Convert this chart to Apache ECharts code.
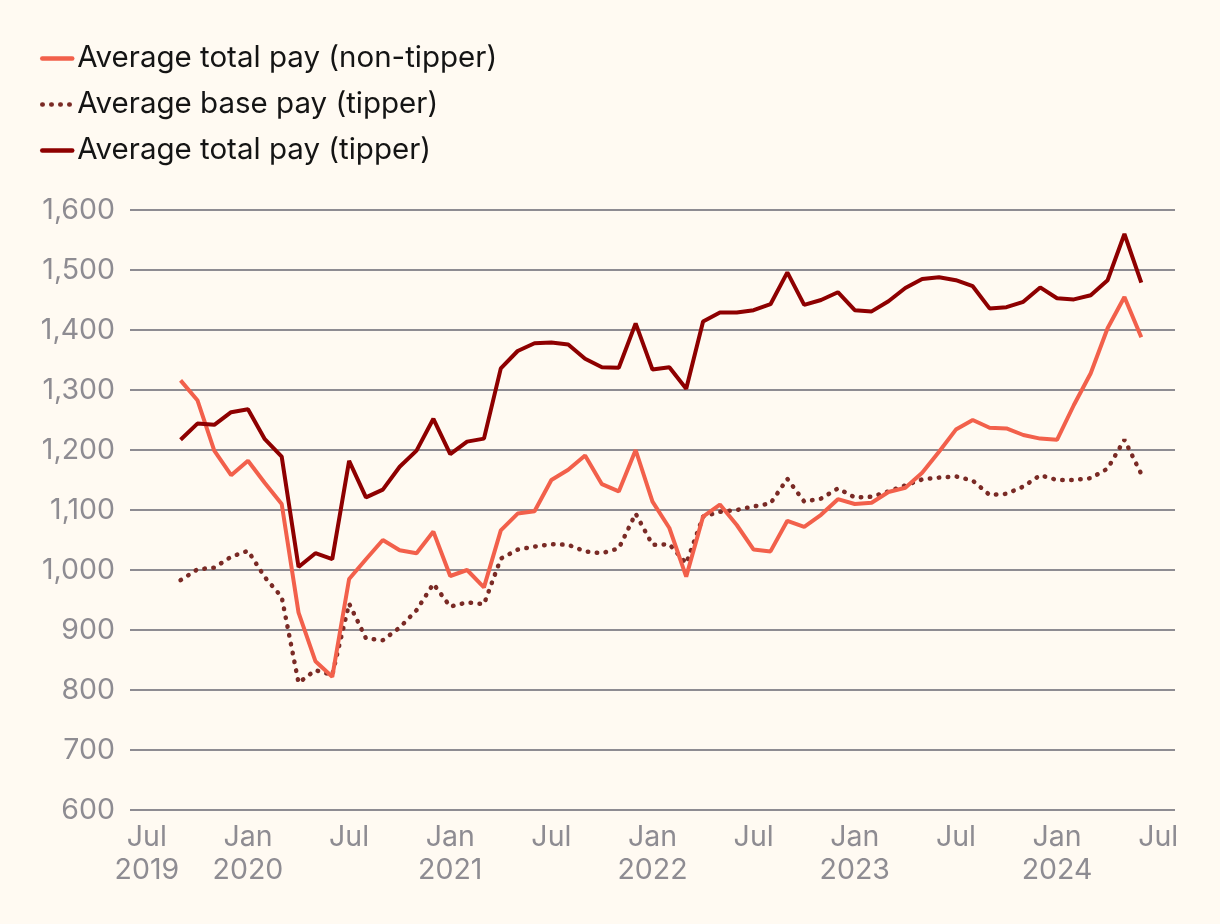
<!DOCTYPE html>
<html>
<head>
<meta charset="utf-8">
<script src="https://cdn.jsdelivr.net/npm/echarts@6/dist/echarts.min.js"></script>
<style>
  html, body { margin: 0; padding: 0; background: #FFFAF2; }
  #chart { width: 1220px; height: 924px; }
</style>
</head>
<body>
<div id="chart"></div>
<script>
// Axis categories (monthly), Jun 2019 – Aug 2024
const axisMonths = [
  '2019-06','2019-07','2019-08','2019-09','2019-10','2019-11','2019-12',
  '2020-01','2020-02','2020-03','2020-04','2020-05','2020-06','2020-07','2020-08','2020-09','2020-10','2020-11','2020-12',
  '2021-01','2021-02','2021-03','2021-04','2021-05','2021-06','2021-07','2021-08','2021-09','2021-10','2021-11','2021-12',
  '2022-01','2022-02','2022-03','2022-04','2022-05','2022-06','2022-07','2022-08','2022-09','2022-10','2022-11','2022-12',
  '2023-01','2023-02','2023-03','2023-04','2023-05','2023-06','2023-07','2023-08','2023-09','2023-10','2023-11','2023-12',
  '2024-01','2024-02','2024-03','2024-04','2024-05','2024-06','2024-07','2024-08'
];

// Data months, Sep 2019 – Jun 2024
const dataMonths = [
  '2019-09','2019-10','2019-11','2019-12',
  '2020-01','2020-02','2020-03','2020-04','2020-05','2020-06','2020-07','2020-08','2020-09','2020-10','2020-11','2020-12',
  '2021-01','2021-02','2021-03','2021-04','2021-05','2021-06','2021-07','2021-08','2021-09','2021-10','2021-11','2021-12',
  '2022-01','2022-02','2022-03','2022-04','2022-05','2022-06','2022-07','2022-08','2022-09','2022-10','2022-11','2022-12',
  '2023-01','2023-02','2023-03','2023-04','2023-05','2023-06','2023-07','2023-08','2023-09','2023-10','2023-11','2023-12',
  '2024-01','2024-02','2024-03','2024-04','2024-05','2024-06'
];

const totalPayNonTipper = [
  1316,1283,1199,1158,1182,1145,1110,929,848,822,985,1018,1050,1033,1028,1064,
  990,1000,971,1066,1094,1098,1150,1167,1191,1143,1131,1200,
  1114,1070,989,1089,1109,1075,1034,1031,1082,1072,1092,1118,
  1110,1112,1130,1137,1162,1197,1234,1250,1237,1236,1225,1219,
  1217,1275,1328,1403,1455,1388
];

const basePayTipper = [
  983,1001,1004,1022,1032,988,955,812,833,825,944,886,883,904,933,977,
  939,946,943,1019,1034,1039,1043,1042,1031,1028,1036,1094,
  1042,1043,1011,1089,1097,1100,1106,1111,1152,1114,1119,1136,
  1121,1122,1131,1141,1151,1154,1156,1149,1125,1127,1139,1158,
  1150,1150,1153,1169,1217,1160
];

const totalPayTipper = [
  1217,1244,1242,1263,1268,1218,1189,1005,1028,1018,1182,1121,1134,1172,1199,1252,
  1193,1214,1219,1336,1365,1378,1379,1376,1352,1338,1337,1411,
  1334,1338,1302,1414,1429,1429,1433,1443,1496,1442,1450,1463,
  1433,1431,1448,1470,1485,1488,1483,1473,1436,1438,1447,1471,
  1453,1451,1458,1483,1560,1479
];

const seriesNames = [
  'Average total pay (non-tipper)',
  'Average base pay (tipper)',
  'Average total pay (tipper)'
];

const monthAbbr = { '01': 'Jan', '07': 'Jul' };

const FONT = 'Inter, Lato, sans-serif';
const GREY = '#8E8C92';
const FS = 28.5;

const pairs = vals => dataMonths.map((m, i) => [m, vals[i]]);

const chart = echarts.init(document.getElementById('chart'));
chart.setOption({
  backgroundColor: '#FFFAF2',
  animation: false,
  legend: {
    orient: 'vertical',
    left: 35,
    top: 38,
    itemWidth: 30,
    itemHeight: 14,
    itemGap: 15,
    itemStyle: { opacity: 0 },
    lineStyle: { width: 4.5, cap: 'round' },
    textStyle: { fontFamily: FONT, fontSize: 29.5, color: '#141414', lineHeight: 31 },
    data: seriesNames
  },
  grid: { left: 130, right: 45, top: 210, bottom: 114, containLabel: false },
  xAxis: {
    type: 'category',
    data: axisMonths,
    boundaryGap: false,
    axisLine: { show: false },
    axisTick: { show: false },
    splitLine: { show: false },
    axisLabel: {
      interval: (idx, val) => val.endsWith('-01') || val.endsWith('-07'),
      hideOverlap: false,
      margin: 11,
      fontFamily: FONT,
      fontSize: FS,
      lineHeight: 33,
      color: GREY,
      formatter: (val, idx) => {
        const [y, m] = val.split('-');
        const name = monthAbbr[m];
        if (!name) return '';
        if (m === '01' || idx === 1) return name + '\n' + y;
        return name;
      }
    }
  },
  yAxis: {
    type: 'value',
    min: 600,
    max: 1600,
    interval: 100,
    axisLine: { show: false },
    axisTick: { show: false },
    splitLine: { lineStyle: { color: GREY, width: 2 } },
    axisLabel: {
      margin: 15,
      fontFamily: FONT,
      fontSize: FS,
      color: GREY,
      formatter: v => v.toLocaleString('en-US')
    }
  },
  series: [
    {
      name: seriesNames[0],
      type: 'line',
      data: pairs(totalPayNonTipper),
      symbol: 'none',
      color: '#F2604B',
      lineStyle: { color: '#F2604B', width: 4 },
      z: 2
    },
    {
      name: seriesNames[1],
      type: 'line',
      data: pairs(basePayTipper),
      symbol: 'none',
      color: '#7A2A25',
      lineStyle: { color: '#7A2A25', width: 4.5, type: [0.5, 8.5], cap: 'round' },
      z: 1
    },
    {
      name: seriesNames[2],
      type: 'line',
      data: pairs(totalPayTipper),
      symbol: 'none',
      color: '#8E0000',
      lineStyle: { color: '#8E0000', width: 4 },
      z: 3
    }
  ]
});
</script>
</body>
</html>
